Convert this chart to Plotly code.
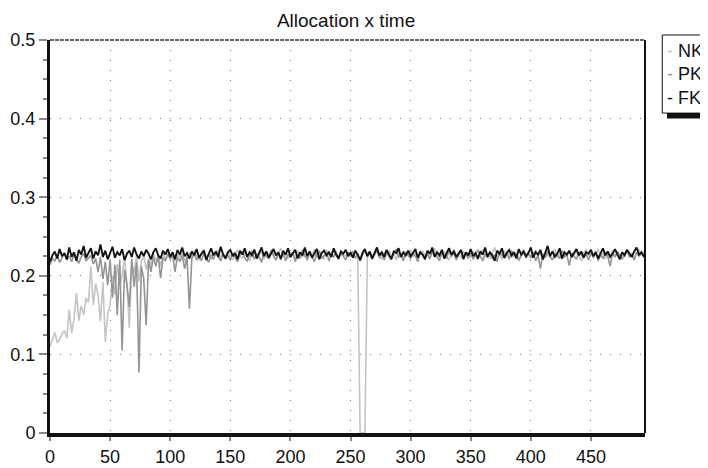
import plotly.graph_objects as go

# time steps (every 2nd step sampled)
TIME = list(range(0, 498, 2))

NK = [
    .110, .118, .128, .115, .119, .126, .130, .121, .157, .127, .145, .178, .143, .162, .150, .172, .166, .212, .163, .190, .175, .142, .192, .116, .152,
    .163, .200, .176, .215, .187, .201, .223, .190, .134, .216, .204, .225, .193, .218, .226, .208, .222, .214, .228, .219, .225, .212, .229, .221, .226,
    .223, .230, .219, .227, .224, .231, .218, .226, .229, .222, .232, .225, .220, .228, .234, .224, .227, .221, .230, .226, .233, .222, .228, .225, .231,
    .224, .220, .229, .233, .226, .222, .230, .225, .219, .228, .234, .223, .227, .231, .221, .229, .226, .232, .224, .220, .229, .235, .225, .228, .222,
    .230, .226, .221, .232, .227, .224, .229, .219, .231, .226, .234, .223, .228, .225, .221, .233, .226, .230, .224, .228, .222, .231, .227, .225, .229,
    .224, .230, .226, .225, 0.0, 0.0, 0.0, .226, .231, .223, .228, .234, .225, .221, .229, .226, .232, .224, .228, .220, .231, .227, .223, .230, .226,
    .233, .224, .229, .221, .227, .232, .225, .230, .222, .228, .235, .226, .223, .229, .231, .224, .220, .228, .233, .225, .229, .222, .231, .226, .228,
    .224, .231, .226, .220, .229, .233, .225, .228, .222, .230, .236, .224, .227, .221, .232, .226, .229, .223, .231, .225, .219, .228, .234, .226, .230,
    .222, .227, .233, .225, .229, .220, .231, .226, .223, .230, .234, .224, .228, .221, .229, .226, .232, .223, .227, .231, .225, .219, .229, .233, .226,
    .230, .223, .227, .234, .225, .229, .221, .231, .226, .232, .224, .228, .222, .230, .226, .233, .225, .229, .221, .228, .234, .226, .231, .227,
]

PK = [
    .214, .222, .219, .226, .217, .224, .229, .220, .225, .218, .227, .221, .216, .224, .228, .219, .223, .226, .215, .222, .205, .224, .196, .218, .188,
    .221, .172, .214, .150, .220, .105, .208, .188, .160, .222, .186, .217, .077, .212, .196, .137, .220, .205, .224, .212, .226, .197, .223, .219, .228,
    .221, .227, .205, .224, .218, .226, .209, .224, .158, .222, .228, .220, .226, .219, .229, .223, .217, .227, .221, .230, .224, .219, .228, .222, .226,
    .220, .229, .224, .218, .227, .231, .223, .219, .226, .232, .221, .228, .224, .217, .230, .225, .222, .233, .226, .220, .228, .223, .231, .219, .227,
    .224, .230, .218, .227, .222, .233, .225, .221, .229, .224, .218, .228, .232, .222, .226, .230, .219, .227, .224, .231, .221, .228, .225, .220, .229,
    .226, .231, .222, .228, .219, .227, .233, .224, .229, .221, .226, .232, .223, .228, .220, .230, .225, .222, .229, .234, .224, .227, .219, .230, .226,
    .222, .229, .225, .218, .231, .226, .223, .228, .221, .233, .227, .224, .219, .230, .226, .222, .232, .225, .229, .220, .227, .231, .224, .228, .222,
    .229, .221, .227, .233, .225, .219, .228, .224, .230, .222, .227, .218, .231, .226, .223, .229, .221, .232, .225, .228, .220, .226, .230, .223, .227,
    .224, .230, .219, .226, .209, .228, .223, .231, .225, .220, .229, .226, .222, .232, .224, .227, .213, .229, .225, .221, .230, .226, .223, .228, .220,
    .228, .224, .231, .219, .227, .222, .230, .225, .212, .229, .224, .231, .226, .221, .228, .233, .224, .227, .220, .230, .225, .229, .223, .231,
]

FK = [
    .218, .226, .231, .222, .234, .225, .229, .221, .236, .224, .230, .219, .233, .227, .238, .223, .229, .235, .222, .231, .226, .240, .224, .232, .221,
    .229, .237, .223, .230, .226, .234, .220, .228, .232, .224, .236, .227, .222, .231, .225, .233, .228, .221, .230, .235, .226, .222, .232, .227, .234,
    .224, .230, .221, .233, .227, .236, .225, .229, .222, .231, .226, .234, .223, .228, .232, .220, .229, .235, .226, .231, .224, .237, .227, .222, .230,
    .233, .225, .229, .221, .232, .227, .235, .224, .230, .226, .233, .222, .228, .236, .225, .231, .223, .229, .234, .226, .230, .221, .232, .227, .235,
    .224, .229, .233, .222, .230, .226, .236, .225, .231, .223, .228, .234, .221, .229, .232, .226, .230, .224, .235, .227, .222, .231, .228, .233, .225,
    .230, .223, .232, .227, .220, .229, .234, .225, .231, .222, .228, .236, .226, .230, .224, .233, .227, .221, .231, .229, .235, .224, .230, .226, .232,
    .225, .229, .234, .223, .230, .227, .221, .232, .228, .236, .224, .230, .226, .233, .222, .229, .235, .227, .231, .224, .228, .233, .221, .230, .226,
    .234, .225, .229, .222, .231, .227, .236, .224, .230, .226, .219, .232, .228, .235, .223, .229, .233, .226, .230, .222, .234, .227, .231, .225, .229,
    .236, .223, .230, .227, .233, .221, .229, .238, .225, .231, .224, .228, .235, .222, .230, .227, .232, .224, .229, .234, .226, .231, .223, .230, .228,
    .233, .225, .230, .222, .229, .235, .226, .231, .224, .228, .234, .227, .221, .230, .226, .233, .228, .224, .231, .236, .227, .230, .225, .232,
]

SERIES = [("NK", NK, "#c4c4c4", 1.6), ("PK", PK, "#949494", 1.6), ("FK", FK, "#141414", 1.9)]

font = dict(family="Liberation Sans, Arial, sans-serif", size=18, color="#111")

fig = go.Figure()
for name, vals, col, w in SERIES:
    fig.add_trace(go.Scatter(x=TIME, y=vals, mode="lines", name=name,
                             line=dict(color=col, width=w)))

axis_common = dict(showgrid=True, gridcolor="#777", gridwidth=1.3, griddash="1px,9px",
                   zeroline=False, showline=True, linecolor="#111", automargin=False,
                   ticks="outside", tickcolor="#888", tickwidth=1.5, tickfont=font)

fig.update_xaxes(range=[0, 495], tickvals=list(range(0, 451, 50)), linewidth=4, ticklen=4,
                 **axis_common)
fig.update_yaxes(range=[0, 0.5], tickvals=[0, 0.1, 0.2, 0.3, 0.4, 0.5],
                 ticktext=["0", "0.1", "0.2", "0.3", "0.4", "0.5"], linewidth=3, ticklen=8,
                 minor=dict(dtick=0.025, ticks="outside", ticklen=4, tickcolor="#888", showgrid=False),
                 **axis_common)

# frame: grey dashed top, black right
fig.add_shape(type="line", xref="paper", yref="paper", x0=0, x1=1, y0=1, y1=1,
              line=dict(color="#666", width=2, dash="4px,1px"))
fig.add_shape(type="line", xref="paper", yref="paper", x0=1, x1=1, y0=0, y1=1,
              line=dict(color="#111", width=2))

# legend box with drop shadow
fig.add_shape(type="rect", xref="paper", yref="paper", x0=1.037, x1=1.2, y0=0.800, y1=0.815,
              fillcolor="#111", line=dict(width=0))
fig.add_shape(type="rect", xref="paper", yref="paper", x0=1.029, x1=1.2, y0=0.814, y1=1.0127,
              fillcolor="white", line=dict(color="#111", width=1))
legend_y = [0.972, 0.913, 0.853]
for (name, vals, col, w), yy in zip(SERIES, legend_y):
    fig.add_annotation(xref="paper", yref="paper", x=1.033, y=yy, xanchor="left", yanchor="middle",
                       showarrow=False, font=font,
                       text="<span style='color:%s'>-</span> %s" % (col, name))

# page puts the plot 8px in from the corner, so the figure is 8px smaller
fig.update_layout(
    width=700, height=460,
    margin=dict(l=42, r=63, t=32, b=35),
    paper_bgcolor="white", plot_bgcolor="white",
    showlegend=False,
    title=dict(text="Allocation x time", x=0.483, xanchor="center", y=0.974, yanchor="middle",
               font=dict(family=font["family"], size=19, color="#111")),
)

fig.write_html("out.html")
